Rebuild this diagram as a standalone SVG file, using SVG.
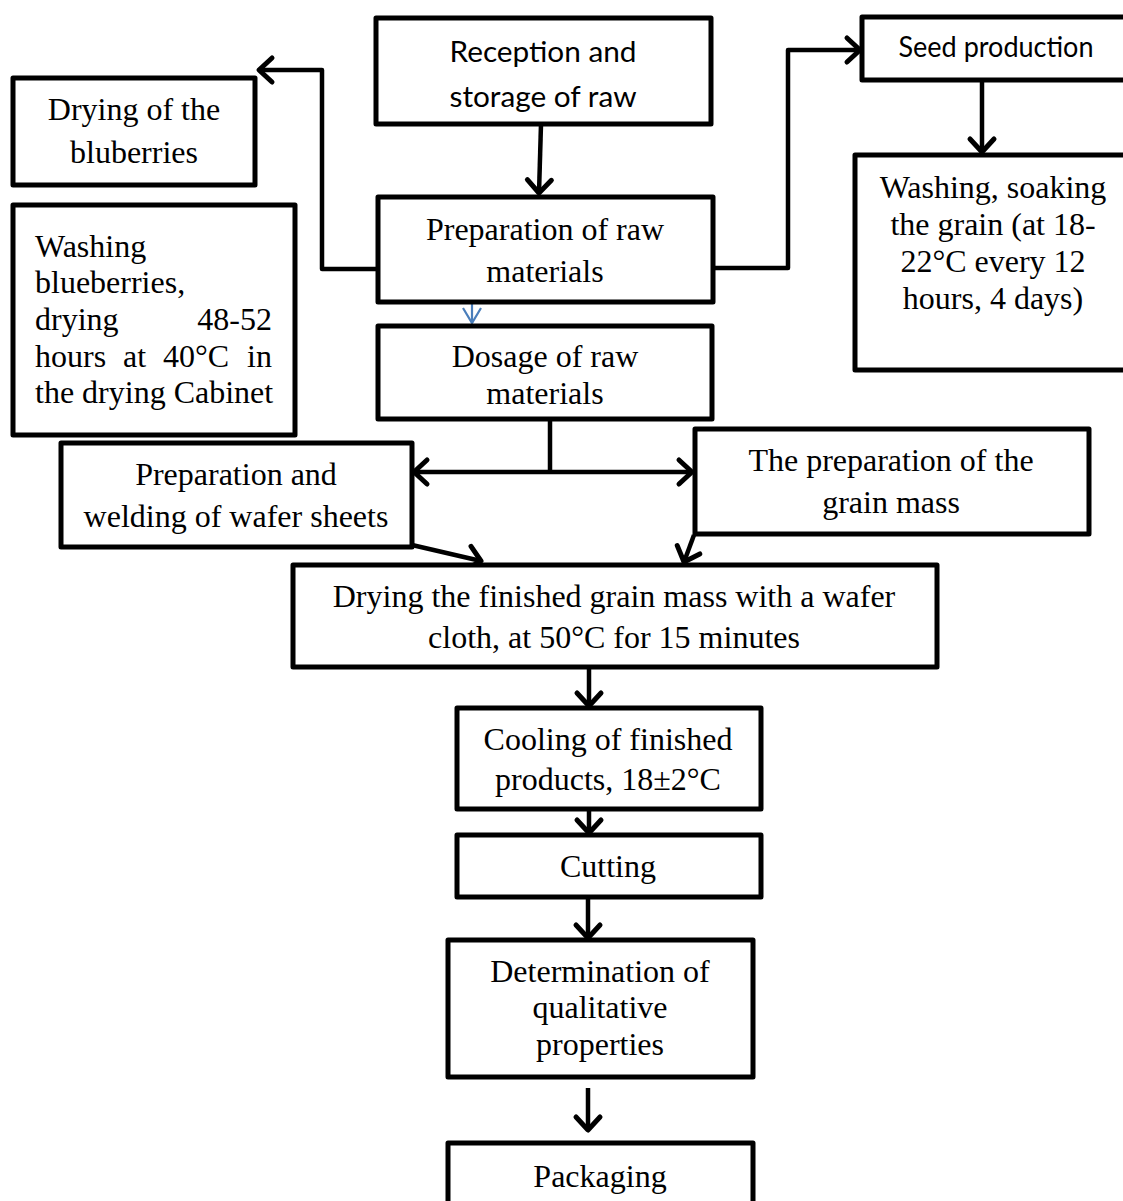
<svg xmlns="http://www.w3.org/2000/svg" width="1123" height="1201" viewBox="0 0 1123 1201">
<defs>
<style>
.box{fill:#fff;stroke:#000;stroke-width:5;stroke-linejoin:round}
.ser{font-family:"Liberation Serif","Times New Roman",serif;font-size:32px;fill:#000}
.sans{font-family:Lato,"Open Sans",sans-serif;font-size:29px;fill:#000}
.c{text-anchor:middle}
.ln{fill:none;stroke:#000;stroke-width:4.5;stroke-linejoin:round}
.blue{fill:none;stroke:#4a7ebb;stroke-width:2.2}
</style>
<marker id="ah" markerUnits="userSpaceOnUse" viewBox="-18 -16 20 32" refX="0" refY="0" markerWidth="20" markerHeight="32" orient="auto" overflow="visible">
<path d="M-13,-12 L0,0 L-13,12" fill="none" stroke="#000" stroke-width="5" stroke-linecap="round" stroke-linejoin="round"/>
</marker>
<marker id="ahb" markerUnits="userSpaceOnUse" viewBox="-16 -12 18 24" refX="0" refY="0" markerWidth="18" markerHeight="24" orient="auto" overflow="visible">
<path d="M-15,-9 L0,0 L-15,9" fill="none" stroke="#4a7ebb" stroke-width="2.2"/>
</marker>
</defs>
<rect width="1123" height="1201" fill="#fff"/>

<g id="connectors">
<path class="ln" d="M541,124 L539,193" marker-end="url(#ah)"/>
<path class="ln" d="M388,269 H322 V70 H259" marker-end="url(#ah)"/>
<path class="ln" d="M713,268 H788 V50 H860" marker-end="url(#ah)"/>
<path class="ln" d="M982,80 V152" marker-end="url(#ah)"/>
<path class="blue" d="M472,303 V323" marker-end="url(#ahb)"/>
<path class="ln" d="M550,420 V472"/>
<path class="ln" d="M550,472 H414" marker-end="url(#ah)"/>
<path class="ln" d="M550,472 H692" marker-end="url(#ah)"/>
<path class="ln" d="M412,545 L481,561" marker-end="url(#ah)"/>
<path class="ln" d="M694,535 L684,562" marker-end="url(#ah)"/>
<path class="ln" d="M589,667 V706" marker-end="url(#ah)"/>
<path class="ln" d="M589,809 V833" marker-end="url(#ah)"/>
<path class="ln" d="M588,898 V938" marker-end="url(#ah)"/>
<path class="ln" d="M588,1088 V1130" marker-end="url(#ah)"/>
</g>

<g id="reception">
<rect class="box" x="376" y="18" width="335" height="106"/>
<text class="sans c" x="543" y="62" textLength="187" lengthAdjust="spacingAndGlyphs">Reception and</text>
<text class="sans c" x="543" y="107" textLength="187" lengthAdjust="spacingAndGlyphs">storage of raw</text>
</g>

<g id="drying-blueberries">
<rect class="box" x="13" y="78" width="242" height="107"/>
<text class="ser c" x="134" y="120">Drying of the</text>
<text class="ser c" x="134" y="163">bluberries</text>
</g>

<g id="preparation-raw">
<rect class="box" x="378" y="197" width="335" height="105"/>
<text class="ser c" x="545" y="240">Preparation of raw</text>
<text class="ser c" x="545" y="282">materials</text>
</g>

<g id="seed-production">
<rect class="box" x="862" y="17" width="275" height="63"/>
<text class="sans c" x="996" y="57" textLength="195" lengthAdjust="spacingAndGlyphs">Seed production</text>
</g>

<g id="washing-soaking">
<rect class="box" x="855" y="155" width="285" height="215"/>
<text class="ser c" x="993" y="198">Washing, soaking</text>
<text class="ser c" x="993" y="235">the grain (at 18-</text>
<text class="ser c" x="993" y="272">22°C every 12</text>
<text class="ser c" x="993" y="309">hours, 4 days)</text>
</g>

<g id="washing-blueberries">
<rect class="box" x="13" y="205" width="282" height="230"/>
<text class="ser" x="35" y="257">Washing</text>
<text class="ser" x="35" y="293">blueberries,</text>
<text class="ser" x="35" y="330">drying</text>
<text class="ser" x="272" y="330" text-anchor="end">48-52</text>
<text class="ser" y="367"><tspan x="35">hours</tspan><tspan x="123">at</tspan><tspan x="163">40°C</tspan></text>
<text class="ser" x="272" y="367" text-anchor="end">in</text>
<text class="ser" x="35" y="403">the drying Cabinet</text>
</g>

<g id="dosage">
<rect class="box" x="378" y="326" width="334" height="93"/>
<text class="ser c" x="545" y="367">Dosage of raw</text>
<text class="ser c" x="545" y="404">materials</text>
</g>

<g id="wafer-sheets">
<rect class="box" x="61" y="443" width="351" height="104"/>
<text class="ser c" x="236" y="485">Preparation and</text>
<text class="ser c" x="236" y="527">welding of wafer sheets</text>
</g>

<g id="grain-mass">
<rect class="box" x="695" y="429" width="394" height="105"/>
<text class="ser c" x="891" y="471">The preparation of the</text>
<text class="ser c" x="891" y="513">grain mass</text>
</g>

<g id="drying-finished">
<rect class="box" x="293" y="565" width="644" height="102"/>
<text class="ser c" x="614" y="607">Drying the finished grain mass with a wafer</text>
<text class="ser c" x="614" y="648">cloth, at 50°C for 15 minutes</text>
</g>

<g id="cooling">
<rect class="box" x="457" y="708" width="304" height="101"/>
<text class="ser c" x="608" y="750">Cooling of finished</text>
<text class="ser c" x="608" y="790">products, 18±2°C</text>
</g>

<g id="cutting">
<rect class="box" x="457" y="835" width="304" height="62"/>
<text class="ser c" x="608" y="877">Cutting</text>
</g>

<g id="determination">
<rect class="box" x="448" y="940" width="305" height="137"/>
<text class="ser c" x="600" y="982">Determination of</text>
<text class="ser c" x="600" y="1018">qualitative</text>
<text class="ser c" x="600" y="1055">properties</text>
</g>

<g id="packaging">
<rect class="box" x="448" y="1143" width="305" height="70"/>
<text class="ser c" x="600" y="1187">Packaging</text>
</g>
</svg>
